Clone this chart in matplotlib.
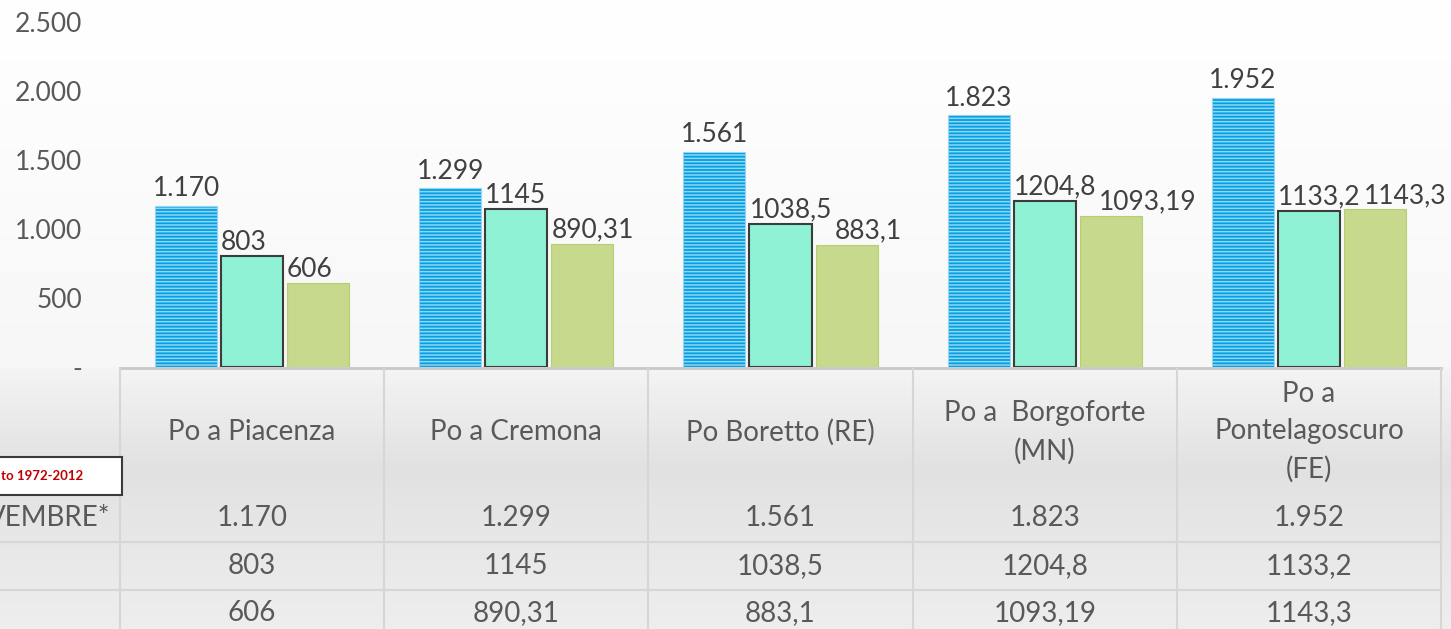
import numpy as np
import matplotlib
matplotlib.use("Agg")
import matplotlib.pyplot as plt
from matplotlib.patches import Rectangle
from matplotlib.transforms import blended_transform_factory
from matplotlib.colors import to_rgb

plt.rcParams['font.family'] = ['Lato', 'DejaVu Sans']
plt.rcParams['hatch.linewidth'] = 1.1

# Data
stations = ["Po a Piacenza", "Po a Cremona", "Po Boretto (RE)",
            "Po a  Borgoforte\n(MN)", "Po a\nPontelagoscuro\n(FE)"]
serie_max = [1170, 1299, 1561, 1823, 1952]
serie_b = [803, 1145, 1038.5, 1204.8, 1133.2]
serie_c = [606, 890.31, 883.1, 1093.19, 1143.3]
row_labels = ["VEMBRE*", "", ""]
note = "to 1972-2012"
yticks = [0, 500, 1000, 1500, 2000, 2500]


def fmt_dot(v):
    return "-" if v == 0 else f"{v:,.0f}".replace(",", ".")


def fmt_comma(v):
    return f"{v:g}".replace(".", ",")


W, H = 1451, 629
fig = plt.figure(figsize=(W / 100, H / 100), dpi=100)

# background in pixel coords (gradient + table)
bg = fig.add_axes([0, 0, 1, 1], zorder=0)
bg.set_xlim(0, W)
bg.set_ylim(H, 0)
bg.axis('off')
stops = [(0, '#ffffff'), (60, '#fefefe'), (366, '#f7f7f7'), (368, '#f4f4f4'),
         (470, '#e1e1e1'), (495, '#e4e4e4'), (629, '#eeeeee')]
ys = np.arange(H)
cols = np.array([to_rgb(c) for _, c in stops])
grad = np.stack([np.interp(ys, [p for p, _ in stops], cols[:, k]) for k in range(3)], axis=1)
bg.imshow(np.repeat(grad[:, None, :], 2, axis=1), extent=[0, W, H, 0], aspect='auto', zorder=0)

# bar chart
ax = fig.add_axes([120 / W, (H - 367) / H, (1441 - 120) / W, (367 - 22) / H], zorder=1)
ax.patch.set_alpha(0)
x = np.arange(len(stations))
w, step = 0.235, 0.25
b1 = ax.bar(x - step, serie_max, w, color='#00a0e2', edgecolor='#93d5f3', hatch='-----', linewidth=0.8)
b2 = ax.bar(x, serie_b, w, color='#8ff2d4', edgecolor='#3c3c3c', linewidth=1.5)
b3 = ax.bar(x + step, serie_c, w, color='#c6d98c', edgecolor='#b8ce72', linewidth=0.8)
ax.bar_label(b1, labels=[fmt_dot(v) for v in serie_max], padding=3, fontsize=19, color='#404040')

# green / olive labels start at the bar's left edge (Excel style)
lab_b, lab_c = [], []
for bars, vals, store in [(b2, serie_b, lab_b), (b3, serie_c, lab_c)]:
    for r, v in zip(bars, vals):
        store.append(ax.annotate(fmt_comma(v), (r.get_x(), r.get_height()), xytext=(0, 1),
                                 textcoords='offset points', ha='left', va='bottom',
                                 fontsize=19, color='#404040'))

ax.set_xlim(-0.5, len(stations) - 0.5)
ax.set_ylim(0, 2500)
ax.set_yticks(yticks)
ax.set_yticklabels([fmt_dot(v) for v in yticks])
ax.set_xticks([])
ax.tick_params(axis='y', length=0, pad=27, labelsize=19, labelcolor='#595959')
for s in ax.spines.values():
    s.set_visible(False)

# nudge olive labels right when they collide with the green ones
fig.canvas.draw()
for g, o in zip(lab_b, lab_c):
    eg, eo = g.get_window_extent(), o.get_window_extent()
    if eo.x0 < eg.x1 + 3 and eo.y1 > eg.y0:
        dx = (eg.x1 + 3 - eo.x0) * 72 / fig.dpi
        o.xyann = (o.xyann[0] + dx, o.xyann[1])

# data table under the plot
tr = blended_transform_factory(ax.transData, bg.transData)
bg.plot([-0.5, len(stations) - 0.5], [368, 368], transform=tr, color='#c8c8c8', lw=2, zorder=2)
for yl in [542, 590]:
    bg.plot([0, 1441], [yl, yl], color='#d6d6d6', lw=1.5, zorder=2)
for i in range(len(stations) + 1):
    bg.plot([i - 0.5, i - 0.5], [369, H], transform=tr, color='#d6d6d6', lw=1.5, zorder=2)

for i, name in enumerate(stations):
    bg.text(i, 432, name, transform=tr, ha='center', va='center', fontsize=20,
            color='#595959', linespacing=1.55, zorder=3)

row_y = [518, 566, 613]
rows = [[fmt_dot(v) for v in serie_max], [fmt_comma(v) for v in serie_b], [fmt_comma(v) for v in serie_c]]
for ry, lab, vals in zip(row_y, row_labels, rows):
    bg.text(110, ry, lab, ha='right', va='center', fontsize=20, color='#595959', zorder=3)
    for i, v in enumerate(vals):
        bg.text(i, ry, v, transform=tr, ha='center', va='center', fontsize=20, color='#595959', zorder=3)

# note box (cut off at left edge)
bg.add_patch(Rectangle((-5, 457), 127, 38, facecolor='white', edgecolor='#3a3a3a', lw=1.5, zorder=4))
bg.text(1, 476, note, ha='left', va='center', fontsize=9.5, fontweight='bold', color='#c00000', zorder=5)

fig.savefig('out.png', dpi=100)
